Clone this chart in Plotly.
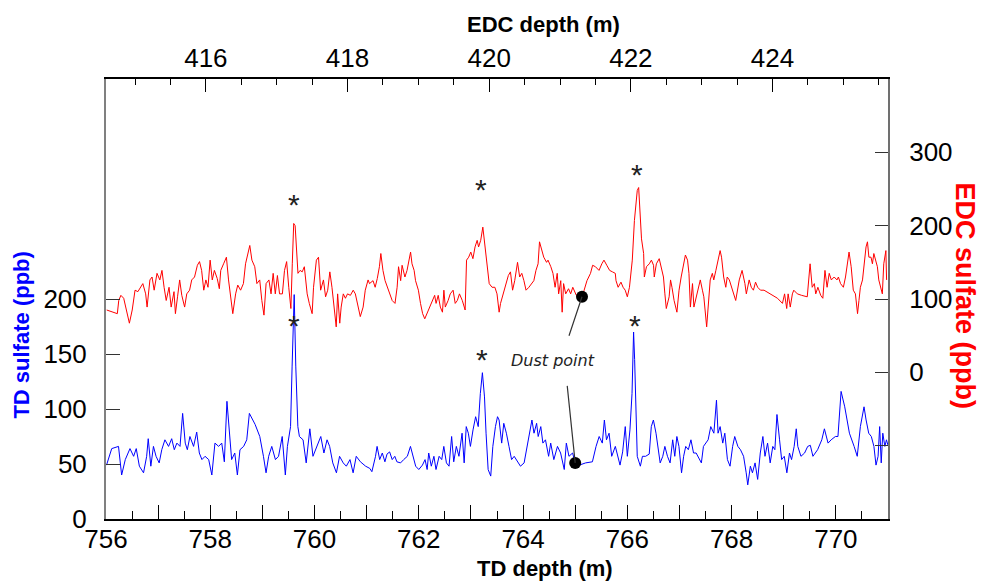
import plotly.graph_objects as go

# ---------------- data ----------------
td_depth = [
756.01,756.11,756.24,756.30,756.37,756.46,756.53,756.58,756.64,756.72,756.78,756.81,756.86,756.91,756.96,
757.02,757.07,757.13,757.20,757.26,757.31,757.36,757.42,757.47,757.52,757.56,757.61,757.68,757.74,757.79,
757.84,757.90,757.97,758.03,758.09,758.16,758.22,758.27,758.32,758.37,758.41,758.47,758.52,758.57,758.64,
758.70,758.75,758.86,758.95,759.02,759.07,759.12,759.18,759.25,759.31,759.38,759.44,759.48,759.54,759.57,
759.61,759.64,759.68,759.71,759.78,759.84,759.91,759.97,760.02,760.08,760.12,760.18,760.24,760.29,760.35,
760.42,760.48,760.55,760.61,760.68,760.74,760.80,760.88,760.98,761.06,
761.10,761.17,761.20,761.25,761.30,761.35,761.39,761.44,761.49,761.54,761.58,761.65,761.71,761.78,761.84,
761.89,761.94,762.00,762.07,762.12,762.16,762.19,762.24,762.29,762.33,762.39,762.44,762.48,762.53,762.58,
762.63,762.67,762.72,762.77,762.83,762.87,762.91,762.95,762.99,763.04,763.09,763.14,763.18,763.22,763.26,
763.29,763.33,763.38,763.42,763.47,763.51,763.54,763.59,763.63,763.68,763.73,763.78,763.83,763.89,763.95,
764.02,764.08,764.13,764.17,764.21,764.26,764.29,764.34,764.38,764.43,764.49,764.53,764.59,764.66,764.72,
764.79,764.83,764.88,764.95,765.00,765.08,765.20,765.33,765.40,765.46,765.52,765.56,765.60,765.65,765.70,
765.77,765.81,765.86,765.91,765.96,766.00,766.05,766.09,
766.12,766.14,766.16,766.19,766.25,766.29,766.35,766.42,766.46,766.50,766.55,766.58,766.63,766.68,766.72,
766.77,766.82,766.87,766.91,766.95,766.99,767.04,767.08,767.12,767.17,767.22,767.27,767.32,767.38,767.42,
767.46,767.51,767.55,767.60,767.66,767.71,767.74,767.78,767.83,767.87,767.92,767.97,768.02,768.06,768.12,
768.17,768.23,768.28,768.31,768.36,768.40,768.45,768.50,768.55,768.60,768.64,768.69,768.74,768.79,768.83,
768.87,768.92,768.96,769.01,769.06,769.11,769.15,769.20,769.24,769.27,769.33,769.40,769.46,769.51,769.56,
769.65,769.73,769.78,769.85,769.91,769.99,770.04,770.10,770.17,770.26,770.35,770.41,770.47,770.54,770.58,
770.63,770.68,770.73,770.77,770.81,770.84,770.87,770.90,770.94,770.97,771.00,
]
td_sulfate = [
49,64,66,40,54,64,57,64,48,42,57,73,48,66,57,
51,63,72,66,73,63,69,66,96,69,63,75,66,79,60,
54,57,54,40,69,66,69,52,107,72,54,60,40,63,66,
72,96,86,75,57,42,57,66,54,57,75,40,66,84,139,
204,139,84,75,72,51,82,57,63,72,75,60,72,66,51,
42,57,51,48,54,42,57,52,48,46,
43,57,66,54,60,52,59,61,54,57,52,51,54,57,66,
57,48,45,49,54,45,60,48,57,45,57,54,66,51,48,
75,52,66,57,78,51,84,78,66,81,93,84,114,133,111,
78,45,39,66,84,93,90,69,87,78,66,54,57,52,48,
51,66,81,90,78,87,75,84,69,72,57,69,54,66,60,
45,69,57,60,51,49,51,52,66,75,69,90,72,78,57,
66,57,49,61,84,57,81,114,
170,145,96,57,48,57,57,59,84,90,78,66,51,57,66,
57,51,72,57,75,66,42,57,66,63,72,60,60,54,51,
66,69,72,84,78,108,78,84,69,78,54,48,66,75,66,
63,57,42,31,48,42,51,36,60,75,57,69,51,66,63,
95,72,54,57,42,60,54,66,82,66,57,60,66,67,57,
63,72,82,69,72,75,75,116,102,78,66,57,84,102,90,
78,75,66,49,57,84,51,78,66,72,67,
]

edc_depth = [
414.60,414.68,414.75,414.77,414.80,414.84,414.88,414.92,414.96,415.00,415.04,415.08,415.11,415.15,415.17,
415.21,415.24,415.27,415.31,415.35,415.38,415.41,415.44,415.48,415.51,415.55,415.57,415.60,415.63,415.66,
415.70,415.73,415.77,415.80,415.84,415.88,415.91,415.94,415.97,416.00,416.03,416.06,416.09,416.12,416.16,
416.19,416.21,416.25,416.29,416.32,416.36,416.38,416.42,416.45,416.49,416.53,416.56,416.59,416.62,416.65,
416.69,416.72,416.76,416.79,416.82,416.85,416.89,416.92,416.95,416.98,417.01,417.04,417.08,417.11,417.14,
417.17,417.20,417.22,417.24,417.26,417.30,417.33,417.36,417.39,417.43,417.46,417.50,417.52,417.56,417.59,
417.62,417.66,417.69,417.72,417.75,417.78,417.82,417.84,417.86,417.89,417.91,417.94,417.97,418.00,418.04,
418.08,418.11,418.15,418.18,418.22,418.25,418.29,418.31,
418.36,418.39,418.42,418.45,418.47,418.50,418.53,418.56,418.59,418.63,418.67,418.70,418.72,418.75,418.77,
418.81,418.84,418.87,418.89,418.91,418.94,418.96,419.00,419.03,419.06,419.09,419.12,419.16,419.20,419.23,
419.25,419.28,419.31,419.34,419.36,419.38,419.42,419.45,419.49,419.52,419.55,419.58,419.62,419.66,419.68,
419.71,419.74,419.77,419.80,419.83,419.85,419.88,419.91,419.94,419.97,420.00,420.04,420.08,420.11,420.14,
420.16,420.19,420.23,420.27,420.30,420.33,420.36,420.40,420.43,420.46,420.49,420.52,420.56,420.60,420.63,
420.66,420.69,420.71,420.74,420.77,420.81,420.83,420.87,420.90,420.93,420.96,420.98,421.01,421.03,421.05,
421.08,421.12,421.15,421.18,421.23,421.31,421.34,421.38,421.43,421.46,421.50,421.55,421.59,421.62,421.66,
421.70,421.74,421.78,421.79,421.82,421.86,421.89,421.92,421.95,421.98,422.02,422.05,
422.07,422.09,422.11,422.13,422.15,422.18,422.19,422.22,422.26,422.29,422.32,422.33,422.36,422.40,422.43,
422.46,422.48,422.50,422.54,422.56,422.58,422.61,422.65,422.68,422.71,422.74,422.77,422.80,422.82,422.84,
422.87,422.89,422.91,422.95,422.98,423.01,423.03,423.07,423.09,423.12,423.15,423.17,423.20,423.23,423.26,
423.28,423.31,423.34,423.36,423.39,423.43,423.48,423.53,423.57,423.61,423.63,423.67,423.70,423.73,423.76,
423.79,423.83,423.88,423.97,424.07,424.14,424.17,424.20,424.22,424.25,424.28,424.30,424.35,424.41,424.49,
424.53,424.56,424.59,424.61,424.64,424.68,424.71,424.74,424.77,424.80,424.83,424.87,424.91,424.93,424.96,
425.00,425.03,425.06,425.08,425.11,425.14,425.17,425.20,425.22,425.24,425.27,425.29,425.32,425.34,425.36,
425.39,425.41,425.43,425.46,425.48,425.50,425.53,425.55,425.57,425.60,425.61,
]
edc_sulfate = [
85,82,80,98,105,101,85,67,85,112,110,116,121,107,89,
126,130,112,135,126,139,116,98,116,89,110,80,103,126,105,
89,107,112,126,130,146,151,139,112,126,116,153,126,139,128,
114,139,148,157,126,98,80,107,119,112,121,148,162,173,153,
144,121,126,98,78,121,126,107,135,107,132,107,107,139,151,
116,87,148,203,200,135,139,137,144,107,94,80,116,153,157,
112,126,103,112,137,116,85,62,107,67,89,107,101,107,105,
112,107,89,76,89,112,126,121,
125,116,128,144,162,139,125,116,107,98,94,116,144,125,146,
130,139,157,164,148,139,125,112,94,80,73,80,89,98,105,
94,105,89,82,112,89,98,107,112,94,98,107,98,85,153,
157,164,155,171,180,171,180,198,173,148,121,116,116,107,82,
94,105,116,132,137,112,125,150,130,135,125,112,116,121,125,
139,148,178,166,157,150,153,144,135,116,135,107,125,82,121,
107,114,107,116,105,103,112,125,135,146,144,139,148,153,146,
139,137,135,125,116,123,116,112,103,116,153,207,
234,248,252,216,182,162,130,144,148,153,146,130,148,155,144,
130,107,87,103,126,116,98,82,112,130,148,160,153,135,89,
121,89,98,116,126,112,103,62,89,126,135,126,139,153,166,
157,130,116,130,126,112,98,126,139,121,107,126,116,112,123,
116,112,112,107,101,94,107,87,107,89,107,112,107,105,103,
148,116,121,107,116,105,101,139,116,135,126,130,126,130,121,
116,130,148,164,144,112,107,80,98,116,126,144,171,178,157,
157,148,162,153,144,126,112,107,148,166,126,
]

# dust point (same layer in both cores)
dust_td = (765.00, 51)
dust_edc = (421.31, 103)

# volcanic peak markers
td_star_depth = [759.61, 763.22, 766.15]
td_star_value = [180, 149, 180]
edc_star_depth = [417.25, 419.89, 422.08]
edc_star_value = [234, 255, 275]

td_tickvals = list(range(756, 772))
td_ticktext = [str(v) if v % 2 == 0 else "" for v in td_tickvals]
edc_tickvals = [416, 418, 420, 422, 424]
left_tickvals = [0, 50, 100, 150, 200]
right_tickvals = [-100, 0, 100, 200, 300]
right_ticktext = ["", "0", "100", "200", "300"]

# ---------------- figure ----------------
TICKFONT = dict(family="Liberation Sans, Arial, sans-serif", size=26, color="black")
TITLEFONT = "Liberation Sans, Arial, sans-serif"

fig = go.Figure()
fig.add_trace(go.Scatter(x=td_depth, y=td_sulfate, mode="lines",
                         line=dict(color="#0000ff", width=1), xaxis="x", yaxis="y",
                         hoverinfo="skip"))
fig.add_trace(go.Scatter(x=edc_depth, y=edc_sulfate, mode="lines",
                         line=dict(color="#ff0000", width=1), xaxis="x2", yaxis="y2",
                         hoverinfo="skip"))
fig.add_trace(go.Scatter(x=[dust_td[0]], y=[dust_td[1]], mode="markers",
                         marker=dict(color="black", size=12), xaxis="x", yaxis="y"))
fig.add_trace(go.Scatter(x=[dust_edc[0]], y=[dust_edc[1]], mode="markers",
                         marker=dict(color="black", size=12), xaxis="x2", yaxis="y2"))

STARFONT = dict(family=TITLEFONT, size=30, color="#222")
annotations = []
for d, v in zip(td_star_depth, td_star_value):
    annotations.append(dict(x=d, y=v, xref="x", yref="y", text="*", showarrow=False,
                            font=STARFONT, xanchor="center", yanchor="middle", yshift=-4))
for d, v in zip(edc_star_depth, edc_star_value):
    annotations.append(dict(x=d, y=v, xref="x2", yref="y2", text="*", showarrow=False,
                            font=STARFONT, xanchor="center", yanchor="middle", yshift=-4))
# leader lines for the dust point
annotations.append(dict(x=dust_edc[0], y=dust_edc[1], xref="x2", yref="y2", text=" ",
                        showarrow=True, arrowhead=0, arrowwidth=1.2, arrowcolor="#333",
                        ax=-16, ay=48, standoff=0, startstandoff=0))
annotations.append(dict(x=dust_td[0], y=dust_td[1], xref="x", yref="y", text=" ",
                        showarrow=True, arrowhead=0, arrowwidth=1.2, arrowcolor="#333",
                        ax=-9, ay=-87, standoff=0, startstandoff=0))
annotations.append(dict(x=dust_td[0], y=dust_td[1], xref="x", yref="y",
                        text="<i>Dust point</i>", showarrow=False,
                        font=dict(family="DejaVu Sans", size=16, color="#222"),
                        xanchor="center", yanchor="middle", xshift=-22, yshift=102))
# axis titles
annotations.append(dict(x=0.5594, y=1.124, xref="paper", yref="paper",
                        xanchor="center", yanchor="middle",
                        text="<b>EDC depth (m)</b>", showarrow=False,
                        font=dict(family=TITLEFONT, size=22, color="black")))
annotations.append(dict(x=0.5617, y=-0.113, xref="paper", yref="paper",
                        xanchor="center", yanchor="middle",
                        text="<b>TD depth (m)</b>", showarrow=False,
                        font=dict(family=TITLEFONT, size=22, color="black")))
annotations.append(dict(x=-0.1075, y=0.419, xref="paper", yref="paper",
                        xanchor="center", yanchor="middle",
                        text="<b>TD sulfate (ppb)</b>", showarrow=False, textangle=-90,
                        font=dict(family=TITLEFONT, size=22, color="#0000ff")))
annotations.append(dict(x=1.099, y=0.507, xref="paper", yref="paper",
                        xanchor="center", yanchor="middle",
                        text="<b>EDC sulfate (ppb)</b>", showarrow=False, textangle=90,
                        font=dict(family=TITLEFONT, size=27, color="#ff0000")))

fig.update_layout(
    width=982, height=582,
    margin=dict(l=106, r=94, t=79, b=63, autoexpand=False),
    plot_bgcolor="white", paper_bgcolor="white",
    showlegend=False,
    annotations=annotations,
    xaxis=dict(range=[756, 771], tickmode="array", tickvals=td_tickvals, ticktext=td_ticktext,
               ticks="inside", ticklen=14, tickwidth=1, tickcolor="black",
               showline=True, linecolor="black", linewidth=1.5, showgrid=False, zeroline=False,
               tickfont=TICKFONT, ticklabelstandoff=-4, automargin=False,
               minor=dict(dtick=0.5, tick0=756, ticks="inside", ticklen=8, tickwidth=1,
                          tickcolor="black", showgrid=False)),
    xaxis2=dict(range=[414.59, 425.63], overlaying="x", side="top", anchor="y2",
                tickmode="array", tickvals=edc_tickvals,
                ticks="inside", ticklen=13, tickwidth=1, tickcolor="black",
                showline=True, linecolor="black", linewidth=1.5, showgrid=False, zeroline=False,
                tickfont=TICKFONT, ticklabelstandoff=0, automargin=False,
                minor=dict(dtick=0.5, tick0=416, ticks="inside", ticklen=6, tickwidth=1,
                           tickcolor="black", showgrid=False)),
    yaxis=dict(range=[0, 400], tickmode="array", tickvals=left_tickvals,
               ticks="inside", ticklen=14, tickwidth=1.2, tickcolor="#333",
               showline=True, linecolor="#808080", linewidth=2, showgrid=False, zeroline=False,
               tickfont=TICKFONT, ticklabelstandoff=12, automargin=False),
    yaxis2=dict(range=[-200, 400], overlaying="y", side="right", anchor="x",
                tickmode="array", tickvals=right_tickvals, ticktext=right_ticktext,
                ticks="inside", ticklen=13, tickwidth=1.2, tickcolor="#333",
                showline=True, linecolor="#707070", linewidth=2, showgrid=False, zeroline=False,
                tickfont=TICKFONT, ticklabelstandoff=14, automargin=False),
)

# the page's default 8px body margin would push the fixed-size figure off-screen
fig.write_html("out.html", config={"displayModeBar": False},
               post_script="document.body.style.margin='0';")
